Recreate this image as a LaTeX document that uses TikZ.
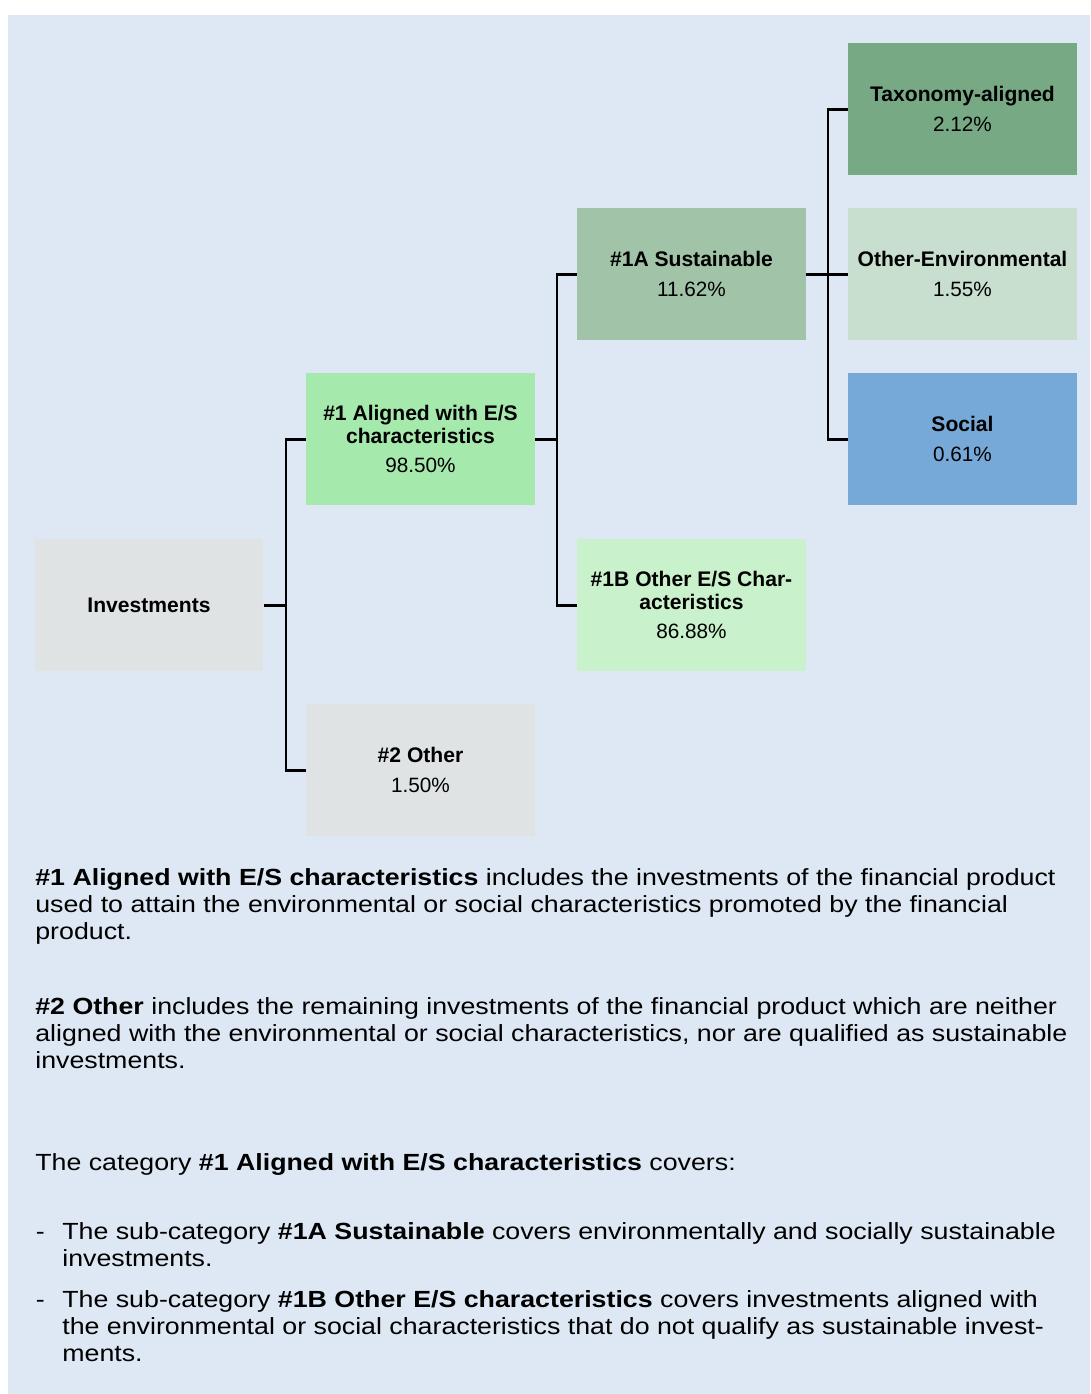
\documentclass[tikz,border=0pt]{standalone}
\usepackage{fontspec}
\setmainfont{Liberation Sans}
\newfontfamily\parafont[FakeStretch=1.145]{Liberation Sans}
\usepackage{tikz}
\usetikzlibrary{positioning, calc}

\definecolor{bgblue}{HTML}{DDE8F4}
\definecolor{greybox}{HTML}{DFE3E3}
\definecolor{alignedgreen}{HTML}{A5E9AC}
\definecolor{sustgreen}{HTML}{A1C4A9}
\definecolor{othergreen}{HTML}{C9F1CB}
\definecolor{taxogreen}{HTML}{77AA84}
\definecolor{envgreen}{HTML}{C8DECF}
\definecolor{socialblue}{HTML}{76A9D7}

\tikzset{
  catbox/.style={rectangle, minimum width=4.58cm, minimum height=2.64cm,
    inner sep=0pt, align=center, font=\fontsize{12}{13}\selectfont\bfseries},
  link/.style={line width=1.7pt},
  para/.style={anchor=base west, inner sep=0pt, align=left,
    font=\parafont\fontsize{13.3}{15.1}\selectfont}
}

\newcommand{\pctfont}{\mdseries\fontsize{11.8}{12}\selectfont}

\begin{document}
\begin{tikzpicture}[x=0.02cm, y=-0.02cm]
  \useasboundingbox (0,0) rectangle (1090,1394);
  \fill[bgblue] (8,15) rectangle (1090,1394);

  % Nodes
  \node[catbox, fill=greybox] (inv) at (149,605) {Investments};
  \node[catbox, fill=alignedgreen] (aligned) at (420.5,439) {\#1 Aligned with E/S\\characteristics\\[4pt]\pctfont 98.50\%};
  \node[catbox, fill=greybox] (other) at (420.5,770) {\#2 Other\\[4pt]\pctfont 1.50\%};
  \node[catbox, fill=sustgreen] (sust) at (691.5,274) {\#1A Sustainable\\[4pt]\pctfont 11.62\%};
  \node[catbox, fill=othergreen] (otheres) at (691.5,605) {\#1B Other E/S Char-\\acteristics\\[4pt]\pctfont 86.88\%};
  \node[catbox, fill=taxogreen] (taxo) at (962.5,109) {Taxonomy-aligned\\[4pt]\pctfont 2.12\%};
  \node[catbox, fill=envgreen] (otherenv) at (962.5,274) {Other-Environmental\\[4pt]\pctfont 1.55\%};
  \node[catbox, fill=socialblue] (social) at (962.5,439) {Social\\[4pt]\pctfont 0.61\%};

  \coordinate (j1) at (286,605);
  \coordinate (j2) at (557,439);
  \coordinate (j3) at (828,274);

  % Lines
  \draw[link] (inv.east) -- (j1);
  \draw[link] (aligned.west) -| (j1) |- (other.west);
  \draw[link] (aligned.east) -- (j2);
  \draw[link] (sust.west) -| (j2) |- (otheres.west);
  \draw[link] (sust.east) -- (otherenv.west);
  \draw[link] (taxo.west) -| (j3) |- (social.west);

  % Text (placed at the baseline of the last line)
  \node[para] (def1) at (35,939) {\textbf{\#1 Aligned with E/S characteristics} includes the investments of the financial product\\used to attain the environmental or social characteristics promoted by the financial\\product.};
  \node[para] (def2) at (35,1068) {\textbf{\#2 Other} includes the remaining investments of the financial product which are neither\\aligned with the environmental or social characteristics, nor are qualified as sustainable\\investments.};
  \node[para] (covers) at (35,1170) {The category \textbf{\#1 Aligned with E/S characteristics} covers:};
  \node[para] (sub1) at (62,1266) {\llap{-\hspace{10pt}}The sub-category \textbf{\#1A Sustainable} covers environmentally and socially sustainable\\investments.};
  \node[para] (sub2) at (62,1361) {\llap{-\hspace{10pt}}The sub-category \textbf{\#1B Other E/S characteristics} covers investments aligned with\\the environmental or social characteristics that do not qualify as sustainable invest-\\ments.};
\end{tikzpicture}
\end{document}
